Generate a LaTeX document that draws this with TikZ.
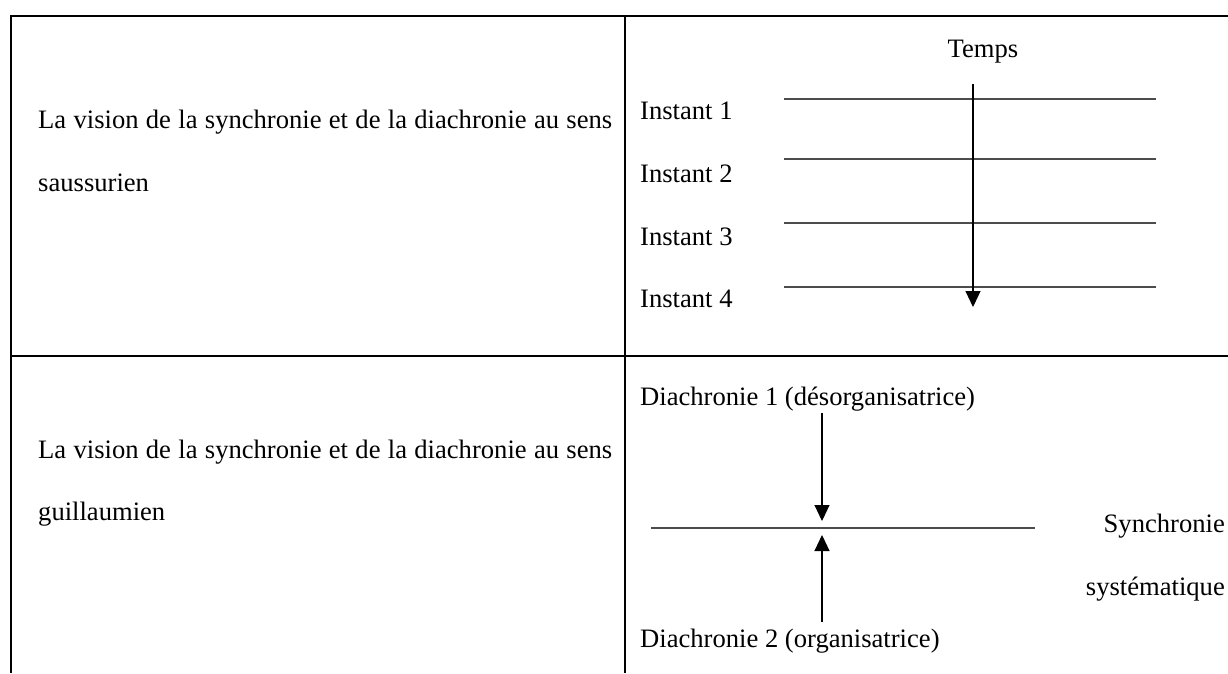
\documentclass[tikz,border=0pt]{standalone}
\usepackage{fontspec}
\setmainfont{Liberation Serif}
\usetikzlibrary{arrows.meta}
\begin{document}
\begin{tikzpicture}[x=1pt,y=-1pt,
  txt/.style={inner sep=0pt,anchor=base west,font=\fontsize{26.6}{30}\selectfont},
  txtr/.style={inner sep=0pt,anchor=base east,font=\fontsize{26.6}{30}\selectfont},
  rule/.style={line width=2.2pt,black},
  level/.style={line width=1.3pt,black!70},
  arr/.style={line width=1.1pt,black,-{Triangle[width=15pt,length=16pt]}}]
\useasboundingbox (0,0) rectangle (1228,673);
% table grid
\coordinate (tl) at (11,16);
\coordinate (tr) at (1228,16);
\coordinate (ml) at (11,356);
\coordinate (mr) at (1228,356);
\coordinate (bl) at (11,673);
\coordinate (ct) at (625,16);
\coordinate (cb) at (625,673);
\draw[rule] (tr) -- (tl) -- (bl);
\draw[rule] (ml) -- (mr);
\draw[rule] (ct) -- (cb);
% row 1 left
\node[txt] (l1a) at (38,128) {\makebox[574pt][s]{La vision de la synchronie et de la diachronie au sens}};
\node[txt] (l1b) at (38,191) {saussurien};
% row 1 right
\node[inner sep=0pt,anchor=base,font=\fontsize{26.6}{30}\selectfont] (temps) at (983,57) {Temps};
\node[txt] (i1) at (640,119) {Instant 1};
\node[txt] (i2) at (640,182) {Instant 2};
\node[txt] (i3) at (640,245) {Instant 3};
\node[txt] (i4) at (640,307) {Instant 4};
\foreach \n/\y in {1/99,2/159,3/223,4/287}{
  \coordinate (a\n) at (784,\y);
  \coordinate (b\n) at (1156,\y);
  \draw[level] (a\n) -- (b\n);
}
\coordinate (tstart) at (973,84);
\coordinate (tend) at (973,307);
\draw[arr] (tstart) -- (tend);
% row 2 left
\node[txt] (l2a) at (38,458) {\makebox[574pt][s]{La vision de la synchronie et de la diachronie au sens}};
\node[txt] (l2b) at (38,520) {guillaumien};
% row 2 right
\node[txt] (d1) at (640,405) {Diachronie 1 (désorganisatrice)};
\node[txt] (d2) at (640,647) {Diachronie 2 (organisatrice)};
\node[txtr] (s1) at (1225,532) {Synchronie};
\node[txtr] (s2) at (1225,595) {systématique};
\coordinate (sa) at (651,528);
\coordinate (sb) at (1035,528);
\draw[level] (sa) -- (sb);
\coordinate (u1) at (822,413);
\coordinate (u2) at (822,521);
\coordinate (v1) at (822,622);
\coordinate (v2) at (822,535);
\draw[arr] (u1) -- (u2);
\draw[arr] (v1) -- (v2);
\end{tikzpicture}
\end{document}
